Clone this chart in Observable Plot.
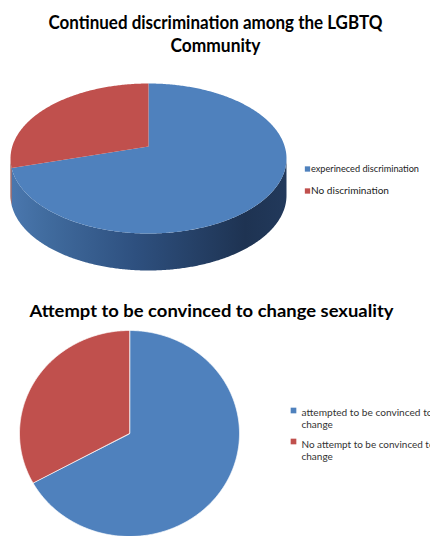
<!DOCTYPE html>
<html><head><meta charset="utf-8">
<script src="https://cdn.jsdelivr.net/npm/d3@7"></script>
<script src="https://cdn.jsdelivr.net/npm/@observablehq/plot@0.6"></script>
<style>body{margin:0;background:#fff;} svg{display:block}</style>
</head><body><div id="chart"></div>
<script>
// ---- data ----
const title1Lines = ["Continued discrimination among the LGBTQ", "Community"];
const pie1Labels = ["experineced discrimination", "No discrimination"];
const pie1Values = [73, 27];
const title2 = "Attempt to be convinced to change sexuality";
const pie2Labels = [["attempted to be convinced to", "change"], ["No attempt to be convinced to", "change"]];
const pie2Values = [67, 33];
const sliceColors = ["#4f81bd", "#c0504d"];
const sideColors = ["url(#sideBlue)", "#7d3432"];

// ---- layout ----
const W = 430, H = 536;
const P1 = {cx: 148, cy: 158, rx: 138, ry: 75, apexShift: 12, depth: 37};
const P2 = {cx: 129, cy: 433, rx: 110, ry: 103};

function arcsOf(values) {
  return d3.pie().sort(null).value(d => d)(values);
}
function facePoints(values, g, tag) {
  const pts = [];
  arcsOf(values).forEach((a, i) => {
    const key = tag + i;
    pts.push({key, cat: i, x: g.cx, y: g.cy - (g.apexShift || 0)});
    const n = Math.max(2, Math.ceil((a.endAngle - a.startAngle) / 0.01));
    for (let k = 0; k <= n; k++) {
      const t = a.startAngle + (a.endAngle - a.startAngle) * k / n;
      pts.push({key, cat: i, x: g.cx + g.rx * Math.sin(t), y: g.cy - g.ry * Math.cos(t)});
    }
  });
  return pts;
}
function sidePoints(values, g) {
  const out = [];
  arcsOf(values).forEach((a, i) => {
    const s = Math.max(a.startAngle, Math.PI / 2), e = Math.min(a.endAngle, 3 * Math.PI / 2);
    if (s >= e) return;
    const pts = [];
    const n = Math.max(2, Math.ceil((e - s) / 0.01));
    for (let k = 0; k <= n; k++) {
      const t = s + (e - s) * k / n;
      pts.push({x: g.cx + g.rx * Math.sin(t), y: g.cy - g.ry * Math.cos(t)});
    }
    for (let k = n; k >= 0; k--) {
      const t = s + (e - s) * k / n;
      pts.push({x: g.cx + g.rx * Math.sin(t), y: g.cy - g.ry * Math.cos(t) + g.depth});
    }
    out.push({i, pts});
  });
  return out;
}

const face1 = facePoints(pie1Values, P1, "a");
const sides1 = sidePoints(pie1Values, P1);
const face2 = facePoints(pie2Values, P2, "b");

const leg1 = pie1Labels.map((label, i) => ({label, cat: i}));
const leg2 = pie2Labels.map((lines, i) => ({lines, cat: i}));
const leg2Lines = leg2.flatMap((d, i) => d.lines.map((t, j) => ({t, i, j})));

const font = "Lato, 'Open Sans', sans-serif";

const plot = Plot.plot({
  width: W, height: H, margin: 0,
  x: {domain: [0, W], range: [0, W], axis: null},
  y: {domain: [0, H], range: [0, H], axis: null},
  color: {type: "ordinal", domain: [0, 1], range: sliceColors},
  style: {background: "white", fontFamily: font},
  marks: [
    ...sides1.map(s => Plot.line(s.pts, {x: "x", y: "y", fill: sideColors[s.i], stroke: "none", curve: "linear-closed"})),
    Plot.line(face1, {x: "x", y: "y", z: "key", fill: "cat", stroke: "none", curve: "linear-closed"}),
    Plot.line(face2, {x: "x", y: "y", z: "key", fill: "cat", stroke: "white", strokeWidth: 0.7, curve: "linear-closed"}),
    // titles
    Plot.text(title1Lines, {x: 215, y: (d, i) => 28 + i * 23.5, text: d => d, fontSize: 19, fontWeight: "bold", textAnchor: "middle", lineAnchor: "bottom", fill: "black"}),
    Plot.text([title2], {x: 211, y: 316, text: d => d, fontSize: 17, fontWeight: "bold", textAnchor: "middle", lineAnchor: "bottom", fill: "black"}),
    // legend 1
    Plot.dot(leg1, {x: 307, y: (d, i) => 168.5 + i * 22, symbol: "square", r: 3, fill: "cat"}),
    Plot.text(leg1, {x: 310.5, y: (d, i) => 171 + i * 22, text: "label", fontSize: 9.5, textAnchor: "start", lineAnchor: "bottom", fill: "#222"}),
    // legend 2
    Plot.dot(leg2, {x: 293, y: (d, i) => 410 + i * 31, symbol: "square", r: 3.2, fill: "cat"}),
    Plot.text(leg2Lines, {x: 301, y: d => 415.5 + d.i * 32 + d.j * 11.5, text: "t", fontSize: 10, textAnchor: "start", lineAnchor: "bottom", fill: "#333"})
  ]
});

// gradient for the 3D side
const svg = d3.select(plot);
const defs = svg.insert("defs", ":first-child");
const g = defs.append("linearGradient").attr("id", "sideBlue").attr("x1", 0).attr("x2", 1).attr("y1", 0).attr("y2", 0);
[[0, "#4a77ae"], [0.12, "#416c9f"], [0.45, "#2e507f"], [0.85, "#1e3352"], [1, "#22395b"]]
  .forEach(([o, c]) => g.append("stop").attr("offset", o).attr("stop-color", c));

// fit text widths to the reference
const widths = {
  "Continued discrimination among the LGBTQ": 334,
  "Community": 90,
  "Attempt to be convinced to change sexuality": 364,
  "experineced discrimination": 108,
  "No discrimination": 78,
  "attempted to be convinced to": 131,
  "No attempt to be convinced to": 133
};
svg.selectAll("text").each(function() {
  const w = widths[this.textContent];
  if (w) d3.select(this).attr("textLength", w).attr("lengthAdjust", "spacingAndGlyphs");
});

document.getElementById("chart").append(plot);
</script>
</body></html>
